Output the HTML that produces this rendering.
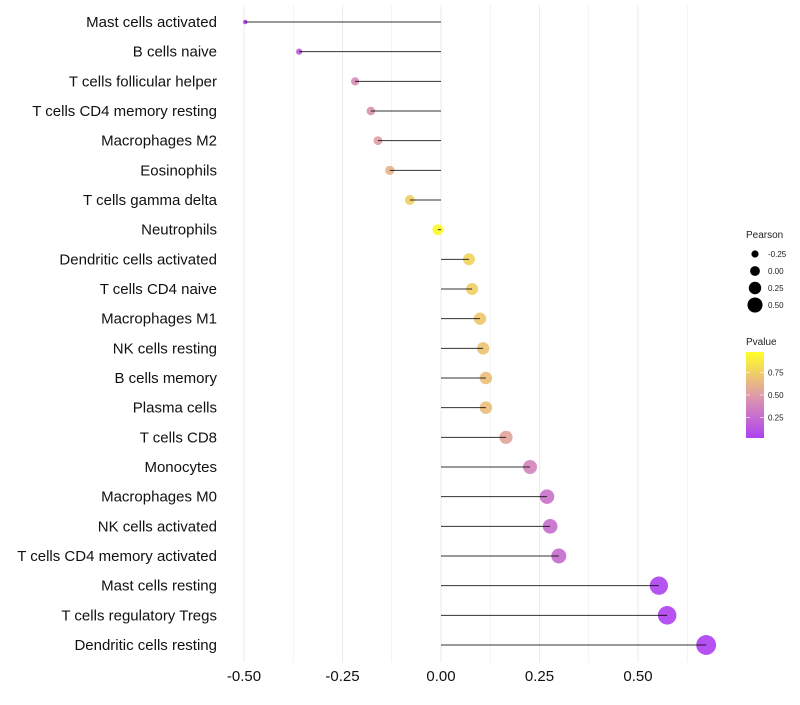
<!DOCTYPE html>
<html><head><meta charset="utf-8"><style>
body{margin:0;background:#fff;font-family:"Liberation Sans",sans-serif}
</style></head><body>
<svg id="chart" width="800" height="700" xmlns="http://www.w3.org/2000/svg" font-family="Liberation Sans, sans-serif"></svg>
<script>
const categories=["Mast cells activated","B cells naive","T cells follicular helper","T cells CD4 memory resting","Macrophages M2","Eosinophils","T cells gamma delta","Neutrophils","Dendritic cells activated","T cells CD4 naive","Macrophages M1","NK cells resting","B cells memory","Plasma cells","T cells CD8","Monocytes","Macrophages M0","NK cells activated","T cells CD4 memory activated","Mast cells resting","T cells regulatory  Tregs ","Dendritic cells resting"];
const pearson=[-0.497,-0.36,-0.218,-0.178,-0.16,-0.13,-0.079,-0.008,0.071,0.079,0.099,0.107,0.114,0.114,0.165,0.226,0.269,0.277,0.299,0.553,0.574,0.673];
const pvalue=[0.02,0.15,0.42,0.46,0.52,0.62,0.76,0.98,0.78,0.76,0.72,0.7,0.68,0.68,0.55,0.38,0.28,0.26,0.24,0.02,0.015,0.005];
const xTicks=[-0.5,-0.25,0,0.25,0.5];
const xTickLabels=["-0.50","-0.25","0.00","0.25","0.50"];
const sizeLegend=[-0.25,0,0.25,0.5];
const sizeLegendLabels=["-0.25","0.00","0.25","0.50"];
const colorTicks=[0.25,0.5,0.75];
const colorTickLabels=["0.25","0.50","0.75"];

const NS="http://www.w3.org/2000/svg";
const svg=document.getElementById('chart');
function el(t,a,p){const e=document.createElementNS(NS,t);for(const k in a)e.setAttribute(k,a[k]);(p||svg).appendChild(e);return e;}
const x=v=>441+(v)*394;
const y=i=>22+i*(623/21);
const r=v=>Math.max(1.5,2.2+(v+0.5)*6.6);
function lerp(a,b,t){return a+(b-a)*t;}
function color(p){
  const stops=[[0,[160,32,240]],[0.5,[217,138,154]],[1,[255,255,0]]];
  let i=p<0.5?0:1;const s=stops[i],e=stops[i+1];const t=(p-s[0])/(e[0]-s[0]);
  return `rgb(${s[1].map((c,k)=>Math.round(lerp(c,e[1][k],t))).join(',')})`;
}
const grid=el('g',{});
for(let v=-0.5;v<=0.626;v+=0.125){
  const gl=el('line',{x1:x(v),x2:x(v),y1:5,y2:662,stroke:'#ebebeb','stroke-width':Math.abs((v*4)%1)<1e-6?1:0.6},grid);
  
}
xTicks.forEach((v,i)=>{
  const t=el('text',{x:x(v),y:681,'text-anchor':'middle','font-size':15,fill:'#111'});
  t.textContent=xTickLabels[i];
  
});
categories.forEach((c,i)=>{
  const t=el('text',{x:217,y:y(i)+5,'text-anchor':'end','font-size':15,fill:'#111'});
  t.textContent=c;
  
  const pt=el('circle',{cx:x(pearson[i]),cy:y(i),r:r(pearson[i]),fill:color(pvalue[i]),'fill-opacity':0.78});
  
  const ln=el('line',{x1:x(0),x2:x(pearson[i]),y1:y(i),y2:y(i),stroke:'#000','stroke-width':1,'stroke-opacity':0.8});
  
});
const lt=el('text',{x:746,y:238,'font-size':10,fill:'#222'});lt.textContent='Pearson';

sizeLegend.forEach((v,i)=>{
  const cy=254+i*17;
  const c=el('circle',{cx:755,cy:cy,r:r(v)*0.8+0.5,fill:'#000'});
  
  const t=el('text',{x:768,y:cy+3,'font-size':8,fill:'#222'});t.textContent=sizeLegendLabels[i];
  
});
const ct=el('text',{x:746,y:345,'font-size':10,fill:'#222'});ct.textContent='Pvalue';

const defs=el('defs',{});const lg=el('linearGradient',{id:'pg',x1:0,y1:1,x2:0,y2:0},defs);
[0,0.25,0.5,0.75,1].forEach(o=>el('stop',{offset:o,'stop-color':color(o)},lg));
const cb=el('rect',{x:746,y:352,width:18,height:86,fill:'url(#pg)','fill-opacity':0.85});

const cy=p=>438-(p-0.02)*(86/0.96);
colorTicks.forEach((v,i)=>{
  el('line',{x1:746,x2:750,y1:cy(v),y2:cy(v),stroke:'#fff','stroke-width':0.6});
  el('line',{x1:760,x2:764,y1:cy(v),y2:cy(v),stroke:'#fff','stroke-width':0.6});
  const t=el('text',{x:768,y:cy(v)+3,'font-size':8,fill:'#222'});t.textContent=colorTickLabels[i];
  
});
</script>
</body></html>
